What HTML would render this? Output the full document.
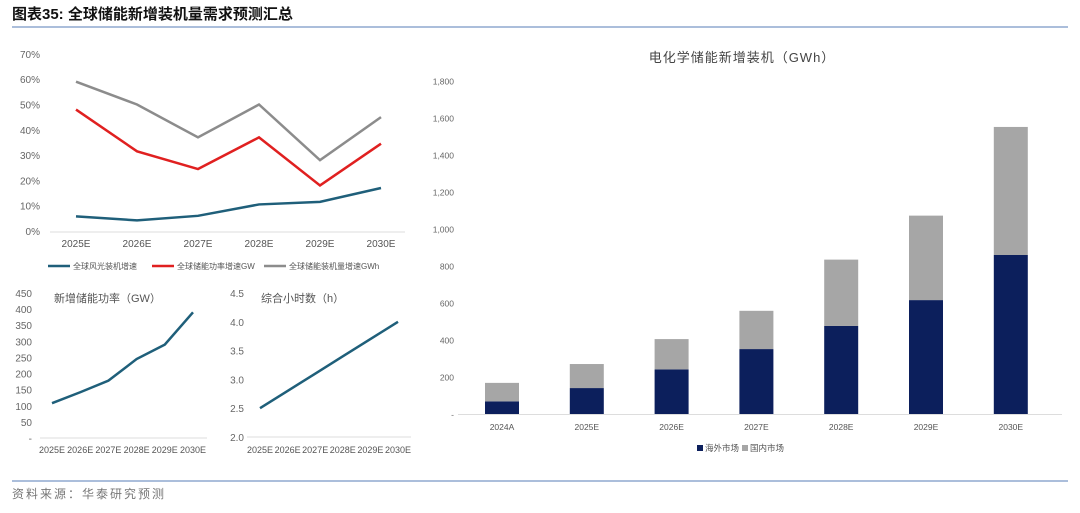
<!DOCTYPE html>
<html><head><meta charset="utf-8">
<style>
body{margin:0;background:#fff;width:1080px;height:508px;overflow:hidden;font-family:"Liberation Sans","Noto Sans CJK SC",sans-serif;}
svg text{font-family:"Liberation Sans","Noto Sans CJK SC",sans-serif;}
</style></head><body>
<svg width="1080" height="508">
<text x="12" y="19" font-size="15" font-weight="bold" fill="#111">图表35:  全球储能新增装机量需求预测汇总</text>
<line x1="12" y1="27" x2="1068" y2="27" stroke="#8fa9cf" stroke-width="1.5"/>
<line x1="12" y1="481" x2="1068" y2="481" stroke="#8fa9cf" stroke-width="1.5"/>
<text x="12" y="498" font-size="12" fill="#777" letter-spacing="2">资料来源：华泰研究预测</text>
<g id="c1"></g><g id="c2"></g><g id="c3"></g><g id="c4"></g>
</svg>
<script>
const NS="http://www.w3.org/2000/svg";
function mk(p,t,a,txt){const e=document.createElementNS(NS,t);for(const k in a)e.setAttribute(k,a[k]);if(txt!==undefined)e.textContent=txt;p.appendChild(e);return e;}

// chart 1: growth rates
const c1Cats=["2025E","2026E","2027E","2028E","2029E","2030E"];
const c1Ticks=["0%","10%","20%","30%","40%","50%","60%","70%"];
const windSolar=[5.8,4.2,6.0,10.5,11.5,17.0];
const powerGW=[48,31.5,24.5,37,18,34.5];
const energyGWh=[59,50,37,50,28,45];
// chart 2
const c2Cats=["2025E","2026E","2027E","2028E","2029E","2030E"];
const c2Ticks=["-","50","100","150","200","250","300","350","400","450"];
const newPower=[108,142,178,245,290,390];
// chart 3
const c3Cats=["2025E","2026E","2027E","2028E","2029E","2030E"];
const c3Ticks=["2.0","2.5","3.0","3.5","4.0","4.5"];
const hours=[2.5,2.8,3.1,3.4,3.7,4.0];
// chart 4
const c4Cats=["2024A","2025E","2026E","2027E","2028E","2029E","2030E"];
const c4Ticks=["-","200","400","600","800","1,000","1,200","1,400","1,600","1,800"];
const overseas=[70,142,243,353,478,618,862];
const domestic=[100,130,164,207,359,457,693];

// Chart 1
(function(){
 const g=document.getElementById('c1');
 const y=v=>231-v*2.53, x=i=>76+i*61;
 c1Ticks.forEach((t,i)=>{const e=mk(g,'text',{x:40,y:y(i*10)+4,'font-size':10,fill:'#666','text-anchor':'end'},t);
 });
 const ax=mk(g,'line',{x1:50,y1:232,x2:405,y2:232,stroke:'#ddd'});
 
 c1Cats.forEach((c,i)=>{const e=mk(g,'text',{x:x(i),y:247,'font-size':10,fill:'#555','text-anchor':'middle'},c);
 });
 [[energyGWh,'#8c8c8c','series-energy-gwh'],[powerGW,'#e02020','series-power-gw'],[windSolar,'#1f5f7a','series-wind-solar']].forEach(s=>{
  const p=mk(g,'polyline',{points:s[0].map((v,i)=>x(i)+','+y(v)).join(' '),fill:'none',stroke:s[1],'stroke-width':2.5});
  });
 const leg=[['全球风光装机增速','#1f5f7a',48],['全球储能功率增速GW','#e02020',152],['全球储能装机量增速GWh','#8c8c8c',264]];
 leg.forEach(l=>{const gg=mk(g,'g',{});
  mk(gg,'line',{x1:l[2],y1:266,x2:l[2]+22,y2:266,stroke:l[1],'stroke-width':2.5});
  mk(gg,'text',{x:l[2]+25,y:269,'font-size':8,fill:'#555'},l[0]);});
})();

// Chart 2
(function(){
 const g=document.getElementById('c2');
 const y=v=>438-v*0.3222, x=i=>52+i*28.2;
 c2Ticks.forEach((t,i)=>{const e=mk(g,'text',{x:32,y:y(i*50)+4,'font-size':10,fill:'#666','text-anchor':'end'},t);
 });
 const ax=mk(g,'line',{x1:40,y1:438,x2:207,y2:438,stroke:'#ddd'});
 
 c2Cats.forEach((c,i)=>{const e=mk(g,'text',{x:x(i),y:453,'font-size':9,fill:'#555','text-anchor':'middle'},c);
 });
 const t=mk(g,'text',{x:54,y:302,'font-size':11,fill:'#555'},'新增储能功率（GW）');
 
 const p=mk(g,'polyline',{points:newPower.map((v,i)=>x(i)+','+y(v)).join(' '),fill:'none',stroke:'#1f5f7a','stroke-width':2.5});
 
})();

// Chart 3
(function(){
 const g=document.getElementById('c3');
 const y=v=>437-(v-2)*57.6, x=i=>260+i*27.6;
 c3Ticks.forEach((t,i)=>{const e=mk(g,'text',{x:244,y:y(2+i*0.5)+4,'font-size':10,fill:'#666','text-anchor':'end'},t);
 });
 const ax=mk(g,'line',{x1:247,y1:437,x2:411,y2:437,stroke:'#ddd'});
 
 c3Cats.forEach((c,i)=>{const e=mk(g,'text',{x:x(i),y:453,'font-size':9,fill:'#555','text-anchor':'middle'},c);
 });
 const t=mk(g,'text',{x:261,y:302,'font-size':11,fill:'#555'},'综合小时数（h）');
 
 const p=mk(g,'polyline',{points:hours.map((v,i)=>x(i)+','+y(v)).join(' '),fill:'none',stroke:'#1f5f7a','stroke-width':2.5});
 
})();

// Chart 4
(function(){
 const g=document.getElementById('c4');
 const y=v=>414.3-v*0.1848, x=i=>502+i*84.8, bw=34;
 const t=mk(g,'text',{x:742,y:62,'font-size':13,fill:'#444','text-anchor':'middle','letter-spacing':1},'电化学储能新增装机（GWh）');
 
 c4Ticks.forEach((tk,i)=>{const e=mk(g,'text',{x:454,y:y(i*200)+3,'font-size':8.5,fill:'#666','text-anchor':'end'},tk);
 });
 c4Cats.forEach((c,i)=>{
  const b1=mk(g,'rect',{x:x(i)-bw/2,y:y(overseas[i]),width:bw,height:overseas[i]*0.1848,fill:'#0c1f5c'});
  
  const b2=mk(g,'rect',{x:x(i)-bw/2,y:y(overseas[i]+domestic[i]),width:bw,height:domestic[i]*0.1848,fill:'#a6a6a6'});
  
  const e=mk(g,'text',{x:x(i),y:430,'font-size':8.5,fill:'#555','text-anchor':'middle'},c);
  
 });
 const ax=mk(g,'line',{x1:458,y1:414.5,x2:1062,y2:414.5,stroke:'#ddd'});
 
 const l1=mk(g,'g',{});
 mk(l1,'rect',{x:697,y:445,width:6,height:6,fill:'#0c1f5c'});
 mk(l1,'text',{x:705,y:451,'font-size':8.5,fill:'#555'},'海外市场');
 const l2=mk(g,'g',{});
 mk(l2,'rect',{x:742,y:445,width:6,height:6,fill:'#a6a6a6'});
 mk(l2,'text',{x:750,y:451,'font-size':8.5,fill:'#555'},'国内市场');
})();
</script>
</body></html>
